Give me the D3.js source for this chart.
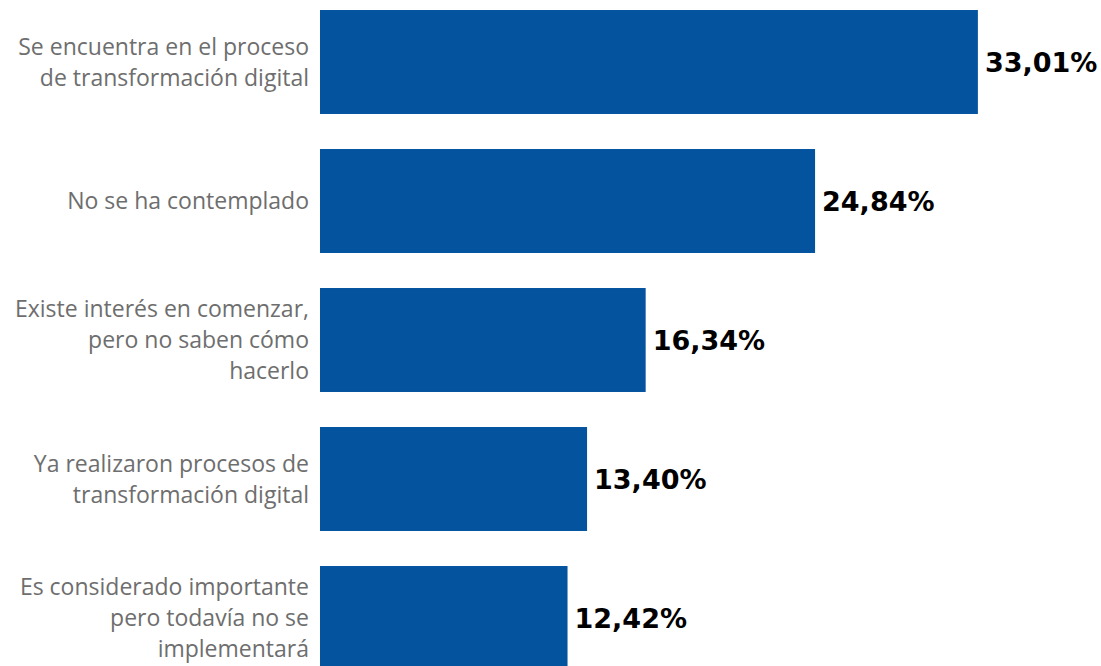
<!DOCTYPE html>
<html>
<head>
<meta charset="utf-8">
<script src="https://cdn.jsdelivr.net/npm/d3@7"></script>
<style>
  body { margin: 0; background: #fff; }
</style>
</head>
<body>
<div id="main"></div>
<script>
const width = 1101;
const height = 666;

// datos
const categorias = [
    ['Se encuentra en el proceso', 'de transformación digital'],
    ['No se ha contemplado'],
    ['Existe interés en comenzar,', 'pero no saben cómo', 'hacerlo'],
    ['Ya realizaron procesos de', 'transformación digital'],
    ['Es considerado importante', 'pero todavía no se', 'implementará']
];
const valores = [33.01, 24.84, 16.34, 13.40, 12.42];
const etiquetas = ['33,01%', '24,84%', '16,34%', '13,40%', '12,42%'];

const svg = d3.select('#main')
    .append('svg')
    .attr('width', width)
    .attr('height', height);

const x = d3.scaleLinear()
    .domain([0, 35])
    .range([320, 320 + 35 * 19.93]);

const y = d3.scaleBand()
    .domain(d3.range(valores.length))
    .range([-7.5, 687.5])
    .paddingInner(0.252)
    .paddingOuter(0.126);

svg.selectAll('rect.bar')
    .data(valores)
    .enter()
    .append('rect')
    .attr('class', 'bar')
    .attr('x', x(0))
    .attr('y', (d, i) => y(i))
    .attr('width', d => x(d) - x(0))
    .attr('height', y.bandwidth())
    .attr('fill', '#04539f');

svg.selectAll('text.valor')
    .data(valores)
    .enter()
    .append('text')
    .attr('class', 'valor')
    .attr('x', d => x(d) + 7)
    .attr('y', (d, i) => y(i) + y.bandwidth() / 2)
    .attr('dy', '0.36em')
    .style('font-family', '"DejaVu Sans", Verdana, sans-serif')
    .style('font-weight', 'bold')
    .style('font-size', '27px')
    .style('fill', '#000')
    .text((d, i) => etiquetas[i]);

// etiquetas de categoria, varias lineas
const lineH = 31;
const cat = svg.selectAll('text.cat')
    .data(categorias)
    .enter()
    .append('text')
    .attr('class', 'cat')
    .attr('text-anchor', 'end')
    .style('font-family', '"Open Sans", sans-serif')
    .style('font-size', '23px')
    .style('fill', '#6e6e6e');

cat.each(function(lines, i) {
    const cy = y(i) + y.bandwidth() / 2;
    const top = cy - (lines.length - 1) * lineH / 2;
    d3.select(this).selectAll('tspan')
        .data(lines)
        .enter()
        .append('tspan')
        .attr('x', 309)
        .attr('y', (l, j) => top + j * lineH)
        .attr('dy', '0.35em')
        .text(l => l);
});
</script>
</body>
</html>
